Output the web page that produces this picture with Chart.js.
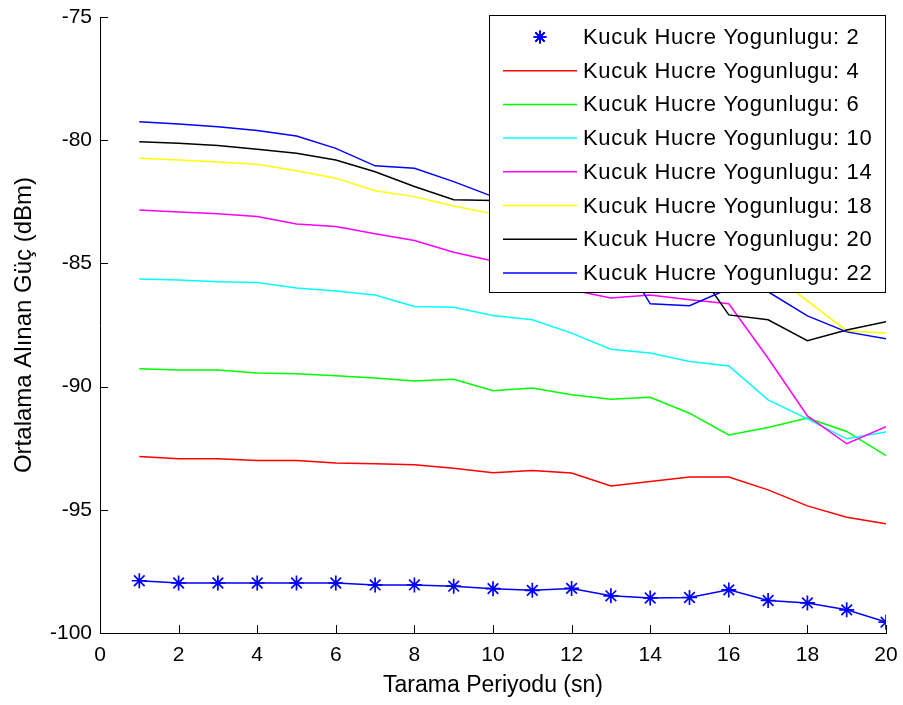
<!DOCTYPE html>
<html>
<head>
<meta charset="utf-8">
<script src="https://cdn.jsdelivr.net/npm/chart.js@4.4.1/dist/chart.umd.min.js"></script>
<style>
  html, body { margin: 0; padding: 0; background: #fff; }
  #wrap { width: 903px; height: 705px; position: relative; }
</style>
</head>
<body>
<div id="wrap"><canvas id="chart"></canvas></div>
<script>
// tarama periyodu (sn)
const periods = [1, 2, 3, 4, 5, 6, 7, 8, 9, 10, 11, 12, 13, 14, 15, 16, 17, 18, 19, 20]

// ortalama alinan guc (dBm), one array per small cell density
const dens2  = [-97.88, -97.97, -97.97, -97.97, -97.97, -97.97, -98.05, -98.05, -98.10, -98.20,
                -98.27, -98.19, -98.49, -98.58, -98.56, -98.25, -98.68, -98.78, -99.06, -99.56]
const dens4  = [-92.84, -92.93, -92.93, -93.00, -93.00, -93.10, -93.13, -93.17, -93.31, -93.50,
                -93.41, -93.51, -94.03, -93.85, -93.67, -93.67, -94.19, -94.84, -95.30, -95.57]
const dens6  = [-89.28, -89.33, -89.33, -89.45, -89.48, -89.56, -89.65, -89.77, -89.70, -90.17,
                -90.06, -90.33, -90.51, -90.43, -91.08, -91.96, -91.66, -91.28, -91.82, -92.80]
const dens10 = [-85.63, -85.67, -85.74, -85.78, -86.00, -86.12, -86.28, -86.75, -86.78, -87.11,
                -87.29, -87.83, -88.48, -88.64, -88.98, -89.16, -90.54, -91.31, -92.12, -91.84]
const dens14 = [-82.83, -82.91, -82.99, -83.10, -83.40, -83.50, -83.80, -84.07, -84.55, -84.90,
                -85.50, -86.08, -86.40, -86.28, -86.48, -86.64, -88.85, -91.19, -92.32, -91.63]
const dens18 = [-80.73, -80.80, -80.88, -80.98, -81.24, -81.54, -82.05, -82.29, -82.67, -82.99,
                -83.30, -83.60, -84.00, -84.30, -84.60, -84.80, -85.30, -86.52, -87.74, -87.82]
const dens20 = [-80.06, -80.12, -80.22, -80.37, -80.53, -80.80, -81.28, -81.88, -82.42, -82.45,
                -82.80, -83.30, -83.80, -84.30, -84.80, -87.09, -87.29, -88.14, -87.70, -87.37]
const dens22 = [-79.25, -79.34, -79.45, -79.61, -79.83, -80.33, -81.04, -81.14, -81.68, -82.29,
                -82.60, -83.00, -84.00, -86.64, -86.72, -86.03, -86.15, -87.13, -87.78, -88.06]

const seriesLabels = [
  'Kucuk Hucre Yogunlugu: 2', 'Kucuk Hucre Yogunlugu: 4', 'Kucuk Hucre Yogunlugu: 6',
  'Kucuk Hucre Yogunlugu: 10', 'Kucuk Hucre Yogunlugu: 14', 'Kucuk Hucre Yogunlugu: 18',
  'Kucuk Hucre Yogunlugu: 20', 'Kucuk Hucre Yogunlugu: 22',
]
const seriesValues = [dens2, dens4, dens6, dens10, dens14, dens18, dens20, dens22]
const seriesColors = ['#0000ff', '#ff0000', '#00ff00', '#00ffff', '#ff00ff', '#ffff00', '#000000', '#0000ff']

const xTicks = [0, 2, 4, 6, 8, 10, 12, 14, 16, 18, 20]
const yTicks = [-100, -95, -90, -85, -80, -75]

const FONT = "'Liberation Sans', Arial, sans-serif"

const datasets = seriesValues.map((vals, i) => ({
  label: seriesLabels[i],
  data: periods.map((p, j) => ({ x: p, y: vals[j] })),
  borderColor: seriesColors[i],
  backgroundColor: seriesColors[i],
  borderWidth: 1.5,
  pointStyle: i === 0 ? 'star' : 'circle',
  pointRadius: i === 0 ? 7.5 : 0,
  pointBorderWidth: 1.7,
  tension: 0,
  fill: false,
  order: seriesValues.length - i,   // later series on top, like matlab
}))

// matlab style ticks pointing inward
const innerTicks = {
  id: 'innerTicks',
  afterDatasetsDraw(chart) {
    const { ctx, scales: { x, y }, chartArea } = chart
    ctx.save()
    ctx.strokeStyle = '#000'
    ctx.lineWidth = 1
    ctx.beginPath()
    xTicks.forEach(v => {
      const px = Math.round(x.getPixelForValue(v)) + 0.5
      ctx.moveTo(px, chartArea.bottom)
      ctx.lineTo(px, chartArea.bottom - 8)
    })
    yTicks.forEach(v => {
      const py = Math.round(y.getPixelForValue(v)) + 0.5
      ctx.moveTo(chartArea.left, py)
      ctx.lineTo(chartArea.left + 8, py)
    })
    ctx.stroke()
    ctx.restore()
  },
}

// boxed legend in the top right corner
const boxLegend = {
  id: 'boxLegend',
  afterDraw(chart) {
    const { ctx, chartArea } = chart
    const right = chartArea.right
    const left = right - 397
    const top = chartArea.top - 2
    const bottom = top + 278
    const rowGap = 33.7
    ctx.save()
    ctx.fillStyle = '#fff'
    ctx.fillRect(left, top, right - left, bottom - top)
    ctx.strokeStyle = '#000'
    ctx.lineWidth = 1
    ctx.strokeRect(left + 0.5, top + 0.5, right - left - 1, bottom - top - 1)
    ctx.font = '22px ' + FONT
    ctx.textBaseline = 'middle'
    ctx.letterSpacing = '0.7px'
    chart.data.datasets.forEach((ds, i) => {
      const cy = top + 22 + i * rowGap
      if (ds.pointStyle === 'star') {
        ctx.strokeStyle = ds.borderColor
        ctx.lineWidth = 1.7
        Chart.helpers.drawPoint(ctx, { pointStyle: 'star', radius: 6.5, borderWidth: 1.7 }, left + 51, cy)
        ctx.stroke()
      } else {
        ctx.strokeStyle = ds.borderColor
        ctx.lineWidth = 1.5
        ctx.beginPath()
        ctx.moveTo(left + 14, cy)
        ctx.lineTo(left + 88, cy)
        ctx.stroke()
      }
      ctx.fillStyle = '#000'
      ctx.fillText(ds.label, left + 94, cy + 1)
    })
    ctx.restore()
  },
}

new Chart(document.getElementById('chart'), {
  type: 'line',
  data: { datasets },
  plugins: [innerTicks, boxLegend],
  options: {
    responsive: true,
    maintainAspectRatio: false,
    animation: false,
    layout: { padding: { top: 17, right: 17, left: 0, bottom: 0 } },
    plugins: {
      legend: { display: false },
      tooltip: { enabled: false },
    },
    scales: {
      x: {
        type: 'linear',
        min: 0,
        max: 20,
        afterFit: s => { s.height = 72; s.paddingLeft = 0; s.paddingRight = 0 },
        afterBuildTicks: s => { s.ticks = xTicks.map(v => ({ value: v })) },
        grid: { drawOnChartArea: false, drawTicks: false },
        border: { display: true, color: '#000', width: 1 },
        ticks: { color: '#000', font: { family: FONT, size: 21 }, padding: 10, maxRotation: 0 },
        title: {
          display: true,
          text: 'Tarama Periyodu (sn)',
          color: '#000',
          font: { family: FONT, size: 23 },
          padding: { top: 0, bottom: 6 },
        },
      },
      y: {
        type: 'linear',
        min: -100,
        max: -75,
        afterFit: s => { s.width = 100; s.paddingTop = 0; s.paddingBottom = 0 },
        afterBuildTicks: s => { s.ticks = yTicks.map(v => ({ value: v })) },
        grid: { drawOnChartArea: false, drawTicks: false },
        border: { display: true, color: '#000', width: 1 },
        ticks: { color: '#000', font: { family: FONT, size: 21 }, padding: 8 },
        title: {
          display: true,
          text: 'Ortalama Alınan Güç (dBm)',
          color: '#000',
          font: { family: FONT, size: 24 },
          padding: { top: 10, bottom: 0 },
        },
      },
    },
  },
})
</script>
</body>
</html>
